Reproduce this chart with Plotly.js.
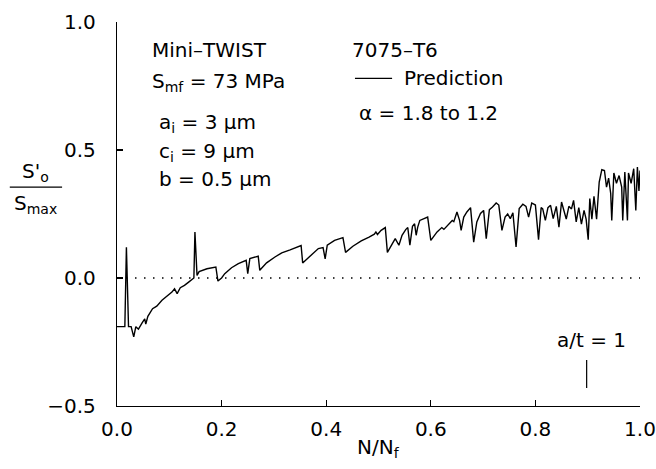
<!DOCTYPE html>
<html>
<head>
<meta charset="utf-8">
<script src="https://cdn.plot.ly/plotly-3.0.1.min.js"></script>
<style>html,body{margin:0;padding:0;background:#fff;}#chart{width:656px;height:469px;}</style>
</head>
<body>
<div id="chart"></div>
<script>
// N/Nf
const nRatio = [
  0, 0.015, 0.018, 0.022, 0.027, 0.032, 0.036, 0.041, 0.048, 0.053,
  0.055, 0.059, 0.068, 0.076, 0.086, 0.096, 0.105, 0.110, 0.115, 0.121,
  0.129, 0.137, 0.143, 0.147, 0.149, 0.153, 0.157, 0.172, 0.189, 0.193,
  0.200, 0.206, 0.219, 0.232, 0.247, 0.250, 0.254, 0.270, 0.273, 0.286,
  0.302, 0.315, 0.331, 0.352, 0.355, 0.368, 0.385, 0.394, 0.398, 0.402,
  0.416, 0.432, 0.437, 0.451, 0.467, 0.482, 0.492, 0.495, 0.498, 0.505,
  0.513, 0.517, 0.524, 0.532, 0.539, 0.545, 0.552, 0.556, 0.560, 0.565,
  0.569, 0.572, 0.575, 0.579, 0.594, 0.600, 0.612, 0.621, 0.625, 0.634,
  0.641, 0.644, 0.650, 0.655, 0.658, 0.663, 0.669, 0.676, 0.682, 0.688,
  0.695, 0.701, 0.706, 0.712, 0.718, 0.725, 0.730, 0.736, 0.742, 0.747,
  0.752, 0.757, 0.763, 0.769, 0.776, 0.782, 0.787, 0.793, 0.800, 0.806,
  0.811, 0.814, 0.819, 0.824, 0.829, 0.834, 0.840, 0.845, 0.850, 0.855,
  0.859, 0.864, 0.869, 0.873, 0.878, 0.883, 0.888, 0.893, 0.897, 0.901,
  0.904, 0.908, 0.912, 0.917, 0.920, 0.922, 0.927, 0.932, 0.936, 0.940,
  0.944, 0.946, 0.950, 0.955, 0.960, 0.965, 0.967, 0.971, 0.976, 0.978,
  0.983, 0.988, 0.992, 0.995, 0.998, 1.000
];
// S'o / Smax (prediction)
const sRatio = [
  -0.19, -0.19, 0.12, -0.19, -0.19, -0.23, -0.19, -0.20, -0.175, -0.16,
  -0.18, -0.15, -0.12, -0.11, -0.087, -0.071, -0.055, -0.042, -0.061, -0.038,
  -0.029, -0.016, -0.006, 0.0, 0.18, 0.01, 0.025, 0.036, 0.043, -0.012,
  0.0, 0.017, 0.04, 0.056, 0.069, 0.017, 0.076, 0.085, 0.03, 0.059,
  0.082, 0.098, 0.11, 0.127, 0.059, 0.082, 0.115, 0.119, 0.075, 0.128,
  0.147, 0.158, 0.10, 0.124, 0.145, 0.16, 0.171, 0.18, 0.17, 0.186,
  0.197, 0.10, 0.128, 0.154, 0.128, 0.167, 0.189, 0.197, 0.128, 0.202,
  0.212, 0.167, 0.199, 0.225, 0.238, 0.147, 0.18, 0.197, 0.19, 0.212,
  0.225, 0.22, 0.258, 0.225, 0.186, 0.238, 0.258, 0.275, 0.14, 0.219,
  0.252, 0.264, 0.154, 0.267, 0.277, 0.293, 0.285, 0.186, 0.238, 0.25,
  0.232, 0.255, 0.121, 0.271, 0.288, 0.28, 0.238, 0.293, 0.285, 0.15,
  0.275, 0.27, 0.225, 0.275, 0.284, 0.232, 0.28, 0.199, 0.297, 0.26,
  0.23, 0.28, 0.27, 0.303, 0.219, 0.275, 0.21, 0.264, 0.23, 0.15,
  0.31, 0.23, 0.319, 0.23, 0.33, 0.375, 0.423, 0.42, 0.355, 0.39,
  0.33, 0.225, 0.41, 0.37, 0.40, 0.355, 0.225, 0.414, 0.225, 0.41,
  0.37, 0.427, 0.264, 0.433, 0.34, 0.42
];
const zeroLineX = [0, 1];
const zeroLineY = [0, 0];
const aOverTOneX = 0.898;
const aOverTOneY = [-0.32, -0.43];
const xTicks = [0, 0.2, 0.4, 0.6, 0.8, 1.0];
const xTickText = ['0.0', '0.2', '0.4', '0.6', '0.8', '1.0'];
const yTicks = [-0.5, 0, 0.5, 1.0];
const yTickText = ['\u22120.5', '0.0', '0.5', '1.0'];

const FONT = 'DejaVu Sans, Liberation Sans, sans-serif';
const fs = 20;

const traces = [
  {x: zeroLineX, y: zeroLineY, mode: 'lines', line: {color: '#000', width: 1.5, dash: '1.5px,7.5px'}, hoverinfo: 'skip', showlegend: false},
  {x: nRatio, y: sRatio, mode: 'lines', line: {color: '#000', width: 1.4}, showlegend: false},
  {x: [aOverTOneX, aOverTOneX], y: aOverTOneY, mode: 'lines', line: {color: '#000', width: 1.2}, showlegend: false}
];

function txt(text, x, y, opts) {
  return Object.assign({text: text, xref: 'paper', yref: 'paper', x: x, y: y, showarrow: false,
    xanchor: 'left', yanchor: 'middle', font: {family: FONT, size: fs, color: '#000'}}, opts || {});
}

const layout = {
  width: 656, height: 469,
  margin: {l: 117, r: 16, t: 22, b: 63},
  paper_bgcolor: '#fff', plot_bgcolor: '#fff',
  font: {family: FONT, size: fs, color: '#000'},
  showlegend: false,
  xaxis: {
    range: [0, 1], tickvals: xTicks, ticktext: xTickText,
    ticks: 'inside', ticklen: 6, tickwidth: 1.2, tickcolor: '#000',
    showline: true, linecolor: '#000', linewidth: 1.2, mirror: false,
    showgrid: false, zeroline: false, ticklabelstandoff: 5,
    tickfont: {family: FONT, size: fs, color: '#000'}
  },
  yaxis: {
    range: [-0.5, 1.0], tickvals: yTicks, ticktext: yTickText,
    ticks: 'inside', ticklen: 6, tickwidth: 1.2, tickcolor: '#000',
    showline: true, linecolor: '#000', linewidth: 1.2, mirror: false,
    showgrid: false, zeroline: false, ticklabelstandoff: 16,
    tickfont: {family: FONT, size: fs, color: '#000'}
  },
  shapes: [
    {type: 'line', xref: 'paper', yref: 'paper', x0: 0.455, x1: 0.526, y0: 0.853, y1: 0.853, line: {color: '#000', width: 1.2}},
    {type: 'line', xref: 'paper', yref: 'paper', x0: -0.205, x1: -0.105, y0: 0.57, y1: 0.57, line: {color: '#000', width: 1.2}}
  ],
  annotations: [
    txt('Mini\u2013TWIST', 0.063, 0.926),
    txt('S<sub>mf</sub> = 73 MPa', 0.063, 0.845),
    txt('a<sub>i</sub> = 3 \u03bcm', 0.076, 0.737),
    txt('c<sub>i</sub> = 9 \u03bcm', 0.076, 0.662),
    txt('b = 0.5 \u03bcm', 0.076, 0.590),
    txt('7075\u2013T6', 0.4455, 0.926),
    txt('Prediction', 0.545, 0.853),
    txt('\u03b1 = 1.8 to 1.2', 0.459, 0.762),
    txt('a/t = 1', 0.8375, 0.173),
    txt("S'<sub>o</sub>", -0.155, 0.61, {xanchor: 'center'}),
    txt('S<sub>max</sub>', -0.155, 0.525, {xanchor: 'center'}),
    txt('N/N<sub>f</sub>', 0.5, -0.11, {xanchor: 'center', yanchor: 'middle'})
  ]
};

Plotly.newPlot('chart', traces, layout, {displayModeBar: false, staticPlot: true});
</script>
</body>
</html>
